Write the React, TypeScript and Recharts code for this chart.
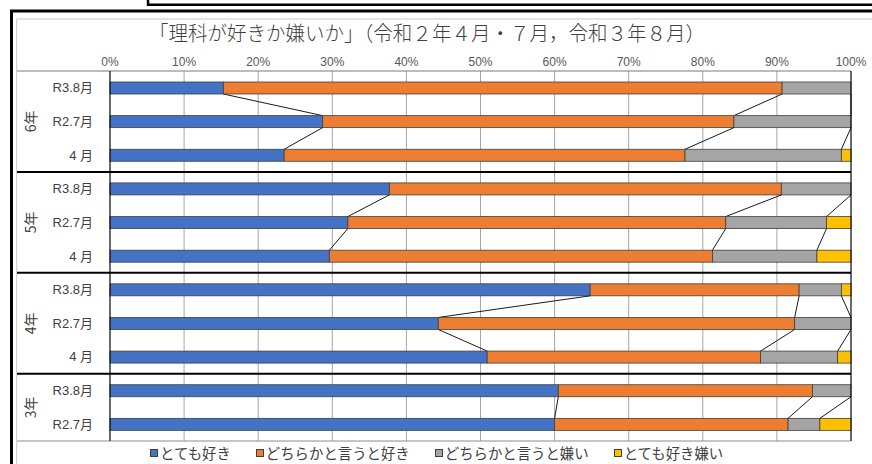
import React from 'react';
import {
  BarChart, Bar, XAxis, YAxis, CartesianGrid, ReferenceLine, Legend, Customized,
} from 'recharts';

// ---- data ----
const grades = ['6年', '6年', '6年', '5年', '5年', '5年', '4年', '4年', '4年', '3年', '3年'];
const months = ['R3.8月', 'R2.7月', '4 月', 'R3.8月', 'R2.7月', '4 月', 'R3.8月', 'R2.7月', '4 月', 'R3.8月', 'R2.7月'];
const veryLike = [15.3, 28.7, 23.5, 37.7, 32.1, 29.6, 64.8, 44.3, 50.9, 60.5, 60.0];
const ratherLike = [75.4, 55.5, 54.1, 52.9, 51.0, 51.7, 28.2, 48.1, 36.9, 34.3, 31.5];
const ratherDislike = [9.3, 15.8, 21.1, 9.4, 13.6, 14.1, 5.7, 7.6, 10.4, 5.2, 4.3];
const veryDislike = [0, 0, 1.3, 0, 3.3, 4.6, 1.3, 0, 1.8, 0, 4.2];
const seriesNames = ['とても好き', 'どちらかと言うと好き', 'どちらかと言うと嫌い', 'とても好き嫌い'];
const xTicks = [0, 10, 20, 30, 40, 50, 60, 70, 80, 90, 100];
const title = '「理科が好きか嫌いか」（令和２年４月・７月，令和３年８月）';

const seriesValues = [veryLike, ratherLike, ratherDislike, veryDislike];
const colors = ['#4472C4', '#ED7D31', '#A5A5A5', '#FFC000'];

const data = months.map((m, i) => ({
  id: `${grades[i]}-${m}-${i}`,
  s0: veryLike[i],
  s1: ratherLike[i],
  s2: ratherDislike[i],
  s3: veryDislike[i],
}));

// ---- layout ----
const W = 872;
const H = 464;
const M = { top: 0, right: 21, bottom: 23, left: 0 };
const X_AXIS_H = 71;
const Y_AXIS_W = 110;
const PLOT_TOP = M.top + X_AXIS_H;
const PLOT_BOTTOM = H - M.bottom;
const PLOT_RIGHT = W - M.right;
const N = months.length;
const BAND = (PLOT_BOTTOM - PLOT_TOP) / N;

const FONT = '"Liberation Sans", "Noto Sans CJK JP", sans-serif';
const CJK = '"Noto Sans CJK JP", sans-serif';

const cum = (row: number, upto: number) => {
  let s = 0;
  for (let k = 0; k < upto; k++) s += seriesValues[k][row];
  return s;
};

const makeShape = (k: number) => (props: any) => {
  const { x, y, width, height, index, fill } = props;
  const els: any[] = [];
  if (width > 0.01) {
    els.push(
      <rect key="r" x={x} y={y} width={width} height={height} fill={fill} stroke="#3f3f3f" strokeWidth={0.8} />
    );
  }
  const v = seriesValues[k][index];
  if (k < 3 && index + 1 < N && grades[index + 1] === grades[index] && v > 0) {
    const ppu = width / v;
    const x0 = x - cum(index, k) * ppu;
    const xEnd = x + width;
    const xNext = x0 + cum(index + 1, k + 1) * ppu;
    els.push(
      <line key="l" x1={xEnd} y1={y + height} x2={xNext} y2={y + BAND} stroke="#1a1a1a" strokeWidth={1} />
    );
  }
  return <g>{els}</g>;
};

const YTick = (props: any) => {
  const { x, y, index } = props;
  const isGroupStart = index === 0 || grades[index - 1] !== grades[index];
  let count = 0;
  for (let j = index; j < N && grades[j] === grades[index]; j++) count++;
  const gy = y + ((count - 1) * BAND) / 2;
  const gx = x - 63;
  return (
    <g>
      <text x={x} y={y} textAnchor="end" dominantBaseline="central" fontSize={13} fontFamily={FONT} fill="#404040">
        {months[index]}
      </text>
      {isGroupStart && (
        <text
          x={gx}
          y={gy}
          textAnchor="middle"
          dominantBaseline="central"
          fontSize={14}
          fontFamily={CJK}
          fill="#404040"
          transform={`rotate(-90, ${gx}, ${gy})`}
        >
          {grades[index]}
        </text>
      )}
    </g>
  );
};

const renderLegend = (props: any) => {
  const payload = [...(props.payload || [])].sort(
    (a: any, b: any) => seriesNames.indexOf(a.value) - seriesNames.indexOf(b.value)
  );
  return (
    <div style={{ position: 'relative', height: 0 }}>
      <div
        style={{
          position: 'absolute', left: 150, top: 0, display: 'flex', whiteSpace: 'nowrap',
          fontFamily: CJK, fontSize: 14.4, color: '#404040', lineHeight: '18px',
        }}
      >
        {payload.map((p: any, i: number) => (
          <span key={i} style={{ display: 'flex', alignItems: 'center', marginRight: 25 }}>
            <span style={{ display: 'inline-block', width: 6, height: 6, background: p.color, border: '1px solid #3f3f3f', marginRight: 2 }} />
            {p.value}
          </span>
        ))}
      </div>
    </div>
  );
};

const Decor = () => {
  const seps: number[] = [];
  for (let i = 1; i < N; i++) if (grades[i] !== grades[i - 1]) seps.push(PLOT_TOP + i * BAND);
  return (
    <g>
      <path d={`M148,-2 V4.7 H${W + 2}`} fill="none" stroke="#000" strokeWidth={2.5} />
      <path d={`M11.5,${H + 2} V11 H${W + 2}`} fill="none" stroke="#000" strokeWidth={3} />
      <path d={`M16.7,${H + 2} V19 H${W + 2}`} fill="none" stroke="#c8c8c8" strokeWidth={1} />
      <text
        x={427}
        y={41}
        textAnchor="middle"
        fontSize={20}
        fontFamily={CJK}
        fontWeight={300}
        fill="#404040"
        textLength={556}
        lengthAdjust="spacingAndGlyphs"
      >
        {title}
      </text>
      <line x1={17} x2={PLOT_RIGHT} y1={PLOT_TOP} y2={PLOT_TOP} stroke="#7a7a7a" strokeWidth={1} />
      <line x1={17} x2={PLOT_RIGHT} y1={PLOT_BOTTOM} y2={PLOT_BOTTOM} stroke="#8c8c8c" strokeWidth={1} />
      {seps.map((sy, i) => (
        <line key={i} x1={17} x2={PLOT_RIGHT} y1={sy} y2={sy} stroke="#000" strokeWidth={2} />
      ))}
    </g>
  );
};

export default function App() {
  return (
    <div style={{ position: 'absolute', left: 0, top: 0, width: W, height: H, background: '#fff' }}>
      <BarChart width={W} height={H} data={data} layout="vertical" margin={M} barSize={12}>
        <CartesianGrid horizontal={false} stroke="#a6a6a6" />
        <XAxis
          type="number"
          orientation="top"
          domain={[0, 100]}
          ticks={xTicks}
          height={X_AXIS_H}
          tickFormatter={(v: number) => `${v}%`}
          axisLine={false}
          tickLine={false}
          tickSize={0}
          tickMargin={5}
          tick={{ fill: '#595959', fontSize: 12, fontFamily: FONT }}
          interval={0}
        />
        <YAxis
          type="category"
          dataKey="id"
          width={Y_AXIS_W}
          axisLine={{ stroke: '#000' }}
          tickLine={false}
          tickSize={0}
          tickMargin={17}
          tick={<YTick />}
          interval={0}
        />
        {seriesNames.map((name, k) => (
          <Bar
            key={k}
            dataKey={`s${k}`}
            name={name}
            stackId="a"
            fill={colors[k]}
            isAnimationActive={false}
            shape={makeShape(k)}
          />
        ))}
        <ReferenceLine x={100} stroke="#000" strokeWidth={1} />
        <Legend content={renderLegend} wrapperStyle={{ left: 0, top: 444, width: W, height: 0 }} />
        <Customized component={<Decor />} />
      </BarChart>
    </div>
  );
}
